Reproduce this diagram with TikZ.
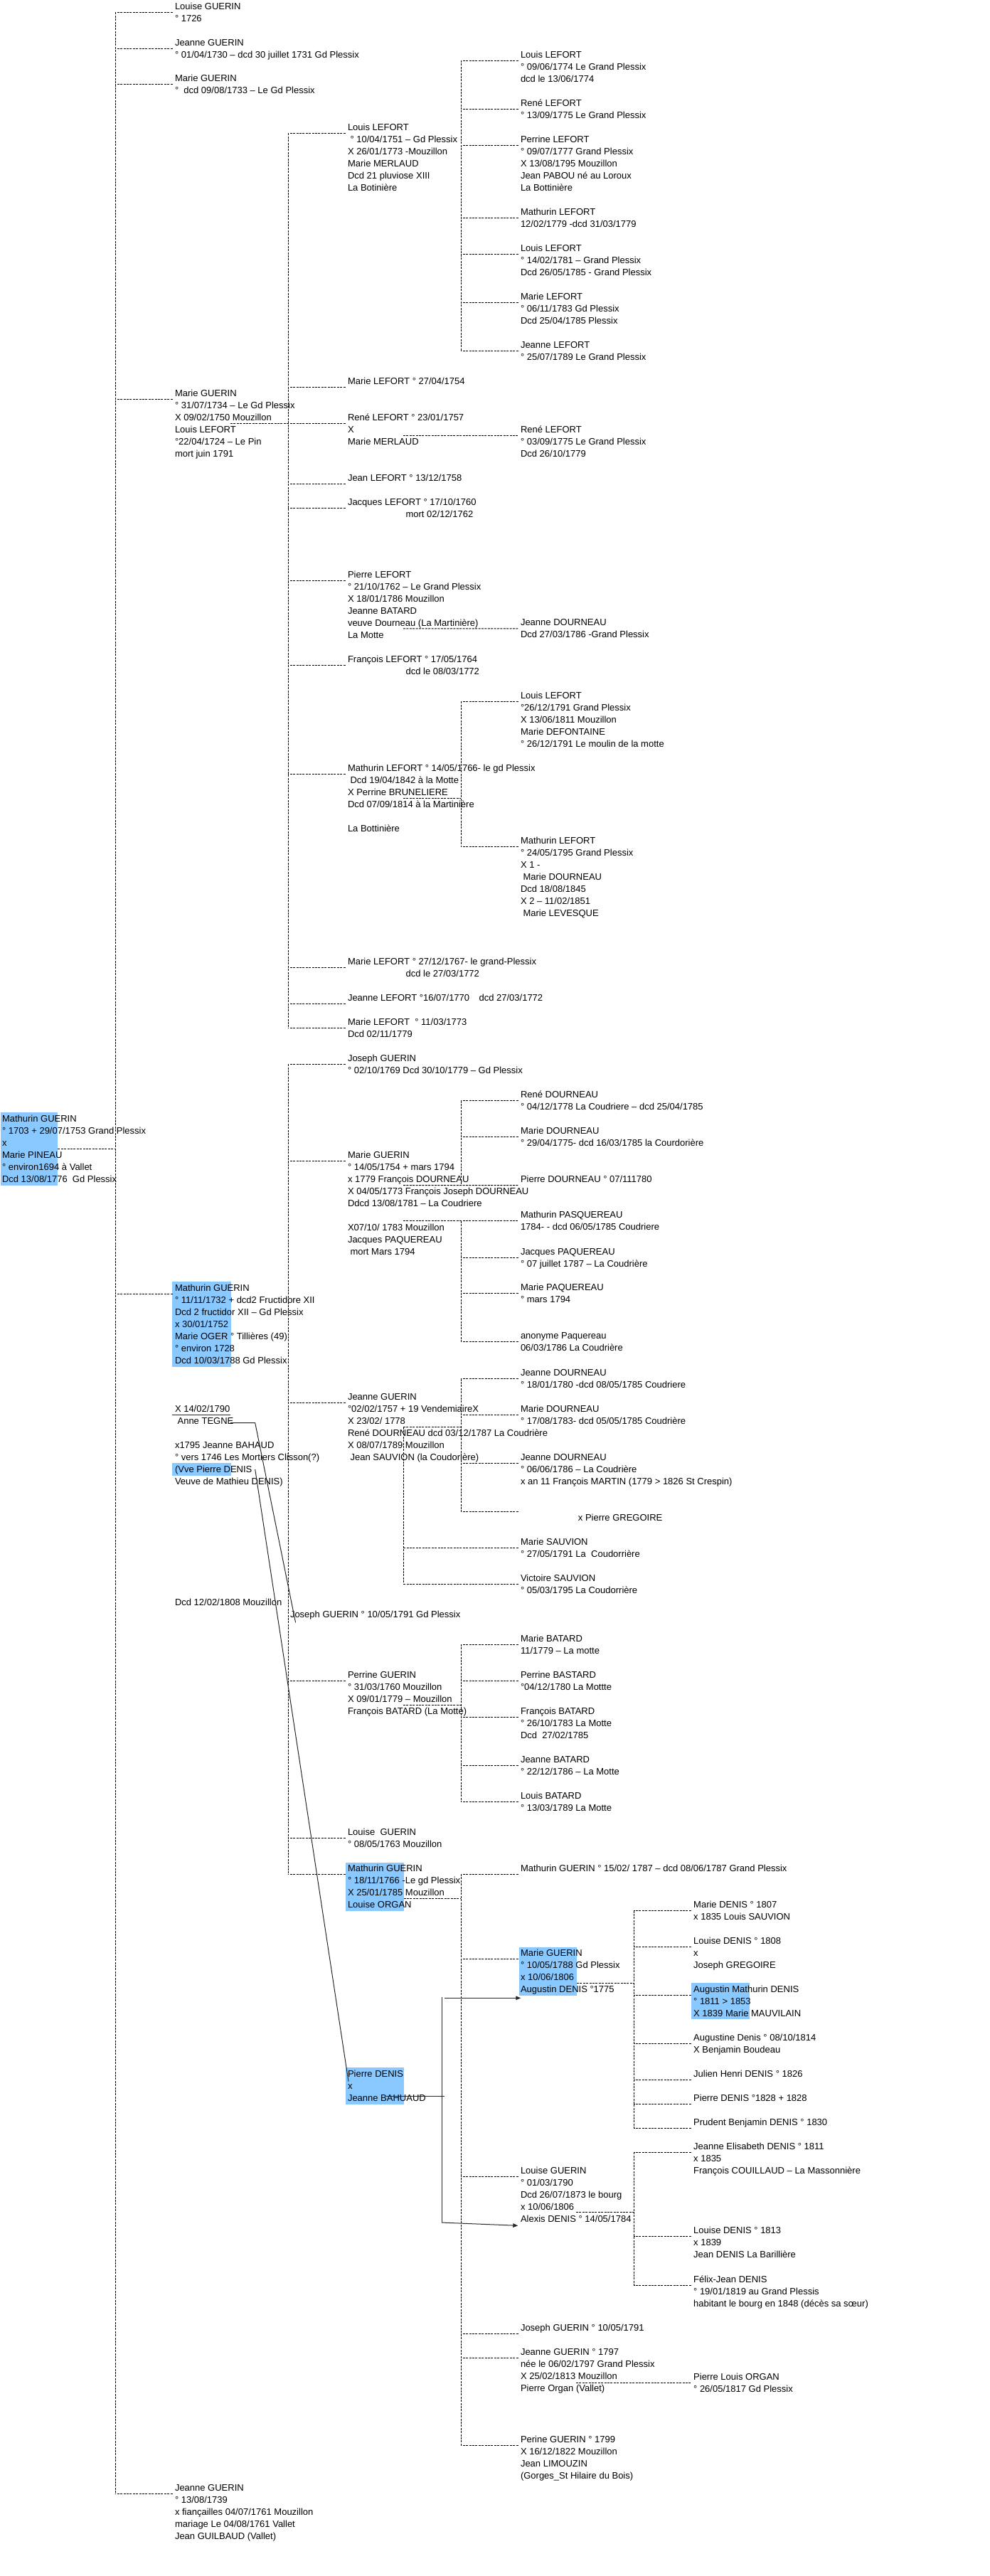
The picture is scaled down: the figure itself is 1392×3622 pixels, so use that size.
\documentclass[tikz,border=0pt]{standalone}
\usepackage{fontspec}
\setmainfont{Liberation Sans}
\usetikzlibrary{backgrounds,arrows.meta,calc}
\definecolor{hl}{RGB}{137,201,255}
\tikzset{
  txt/.style={anchor=north west, inner sep=0pt, outer sep=0pt, align=left, yshift=12pt,
              font=\fontsize{13}{17}\selectfont},
  dl/.style={draw=black, line width=0.9pt, dash pattern=on 3pt off 1.4pt},
  sl/.style={draw=black!85, line width=1pt},
  arr/.style={sl, -{Triangle[length=7pt,width=5.5pt]}},
}
% person node: name, x, first baseline, text
\newcommand\pp[4]{\node[txt] (#1) at (#2,#3) {\rule{0pt}{12pt}#4};
  \coordinate (#1-in) at ([shift={(-3.5,16)}]#1.north west);}
% child line from a vertical
\newcommand\cl[2]{\draw[dl] (#1-in) -- (#1-in -| #2);}
% vertical of a bracket
\newcommand\vb[3]{\draw[dl] (#2-in -| #1) -- (#3-in -| #1);}
% parent line: node, dx, dy, vertical
\newcommand\pl[4]{\draw[dl] ([shift={(#2,#3)}]#1.north west) coordinate (tmp) -- (tmp -| #4);}
\newcommand\lsp{\hspace*{3.6pt}}

\begin{document}
\begin{tikzpicture}[x=1pt,y=-1pt]
\useasboundingbox (0,0) rectangle (1392,3622);
\coordinate (v0) at (162.4,0);
\coordinate (vA) at (405.3,0);
\coordinate (v4) at (648.3,0);
\coordinate (vS) at (567.3,0);
\coordinate (v5) at (891.4,0);

% ---------------- root and generation 2
\pp{root}{3}{1577}{Mathurin GUERIN\\° 1703 + 29/07/1753 Grand Plessix\\x\\Marie PINEAU\\° environ1694 à Vallet\\Dcd 13/08/1776\ \ Gd Plessix}
\pp{louiseA}{246}{13.4}{Louise GUERIN\\° 1726}
\pp{jeanneA}{246}{64}{Jeanne GUERIN\\° 01/04/1730 – dcd 30 juillet 1731 Gd Plessix}
\pp{marieA}{246}{114.6}{Marie GUERIN\\°\ \ dcd 09/08/1733 – Le Gd Plessix}
\pp{marieB}{246}{557.5}{Marie GUERIN\\° 31/07/1734 – Le Gd Plessix\\X 09/02/1750 Mouzillon\\Louis LEFORT\\°22/04/1724 – Le Pin\\mort juin 1791}
\pp{mathurinA}{246}{1815.2}{Mathurin GUERIN\\° 11/11/1732 + dcd2 Fructidore XII\\Dcd 2 fructidor XII – Gd Plessix\\x 30/01/1752\\Marie OGER ° Tillières (49)\\° environ 1728\\Dcd 10/03/1788 Gd Plessix}
\pp{tegne}{246}{1985.2}{X 14/02/1790\\\lsp Anne TEGNE}
\pp{bahaud}{246}{2036.2}{x1795 Jeanne BAHAUD\\° vers 1746 Les Mortiers Clisson(?)\\(Vve Pierre DENIS\\Veuve de Mathieu DENIS)}
\pp{dcdM}{246}{2257}{Dcd 12/02/1808 Mouzillon}
\pp{jeanneC}{246}{3502}{Jeanne GUERIN\\° 13/08/1739\\x fiançailles 04/07/1761 Mouzillon\\mariage Le 04/08/1761 Vallet\\Jean GUILBAUD (Vallet)}

% ---------------- generation 3 (children of Marie GUERIN x Louis LEFORT)
\pp{louisL}{489}{183.4}{Louis LEFORT\\\lsp° 10/04/1751 – Gd Plessix\\X 26/01/1773 -Mouzillon\\Marie MERLAUD\\Dcd 21 pluviose XIII\\La Botinière}
\pp{marieL54}{489}{540}{Marie LEFORT ° 27/04/1754}
\pp{reneL57}{489}{591}{René LEFORT ° 23/01/1757\\X\\Marie MERLAUD}
\pp{jeanL58}{489}{676.3}{Jean LEFORT ° 13/12/1758}
\pp{jacquesL60}{489}{710.3}{Jacques LEFORT ° 17/10/1760\\\hspace*{81.6pt}mort 02/12/1762}
\pp{pierreL62}{489}{812.3}{Pierre LEFORT\\° 21/10/1762 – Le Grand Plessix\\X 18/01/1786 Mouzillon\\Jeanne BATARD\\veuve Dourneau (La Martinière)\\La Motte}
\pp{francoisL64}{489}{931.3}{François LEFORT ° 17/05/1764\\\hspace*{81.6pt}dcd le 08/03/1772}
\pp{mathurinL66}{489}{1084.3}{Mathurin LEFORT ° 14/05/1766- le gd Plessix\\\lsp Dcd 19/04/1842 à la Motte\\X Perrine BRUNELIERE\\Dcd 07/09/1814 à la Martinière}
\pp{bottiniere}{489}{1169.3}{La Bottinière}
\pp{marieL67}{489}{1356.5}{Marie LEFORT ° 27/12/1767- le grand-Plessix\\\hspace*{81.6pt}dcd le 27/03/1772}
\pp{jeanneL70}{489}{1407.5}{Jeanne LEFORT °16/07/1770\hspace{13.4pt}dcd 27/03/1772}
\pp{marieL73}{489}{1441.2}{Marie LEFORT\ \ ° 11/03/1773\\Dcd 02/11/1779}

% ---------------- generation 3 (children of Mathurin GUERIN x Marie OGER)
\pp{josephG69}{489}{1492.2}{Joseph GUERIN\\° 02/10/1769 Dcd 30/10/1779 – Gd Plessix}
\pp{marieG54}{489}{1628.2}{Marie GUERIN\\° 14/05/1754 + mars 1794\\x 1779 François DOURNEAU\\X 04/05/1773 François Joseph DOURNEAU\\Ddcd 13/08/1781 – La Coudriere}
\pp{marieG54b}{489}{1730.2}{X07/10/ 1783 Mouzillon\\Jacques PAQUEREAU\\\lsp mort Mars 1794}
\pp{jeanneG57}{489}{1968.2}{Jeanne GUERIN\\°02/02/1757 + 19 VendemiaireX\\X 23/02/ 1778\\René DOURNEAU dcd 03/12/1787 La Coudrière\\X 08/07/1789 Mouzillon\\\lsp Jean SAUVION (la Coudorière)}
\pp{josephG91}{408}{2274}{Joseph GUERIN ° 10/05/1791 Gd Plessix}
\pp{perrineG60}{489}{2359.5}{Perrine GUERIN\\° 31/03/1760 Mouzillon\\X 09/01/1779 – Mouzillon\\François BATARD (La Motte)}
\pp{louiseG63}{489}{2580.5}{Louise\ \ GUERIN\\° 08/05/1763 Mouzillon}
\pp{mathurinG66}{489}{2631}{Mathurin GUERIN\\° 18/11/1766 -Le gd Plessix\\X 25/01/1785 Mouzillon\\Louise ORGAN}
\pp{pdenis}{489}{2920}{Pierre DENIS\\x\\Jeanne BAHUAUD}

% ---------------- generation 4
\pp{louisL74}{732}{81}{Louis LEFORT\\° 09/06/1774 Le Grand Plessix\\dcd le 13/06/1774}
\pp{reneL75}{732}{149}{René LEFORT\\° 13/09/1775 Le Grand Plessix}
\pp{perrineL77}{732}{200.4}{Perrine LEFORT\\° 09/07/1777 Grand Plessix\\X 13/08/1795 Mouzillon\\Jean PABOU né au Loroux\\La Bottinière}
\pp{mathurinL79}{732}{302}{Mathurin LEFORT\\12/02/1779 -dcd 31/03/1779}
\pp{louisL81}{732}{353}{Louis LEFORT\\° 14/02/1781 – Grand Plessix\\Dcd 26/05/1785 - Grand Plessix}
\pp{marieL83}{732}{421}{Marie LEFORT\\° 06/11/1783 Gd Plessix\\Dcd 25/04/1785 Plessix}
\pp{jeanneL89}{732}{489}{Jeanne LEFORT\\° 25/07/1789 Le Grand Plessix}
\pp{reneL75b}{732}{608}{René LEFORT\\° 03/09/1775 Le Grand Plessix\\Dcd 26/10/1779}
\pp{jeanneD86}{732}{879.9}{Jeanne DOURNEAU\\Dcd 27/03/1786 -Grand Plessix}
\pp{louisL91}{732}{982.3}{Louis LEFORT\\°26/12/1791 Grand Plessix\\X 13/06/1811 Mouzillon\\Marie DEFONTAINE\\° 26/12/1791 Le moulin de la motte}
\pp{mathurinL95}{732}{1186.3}{Mathurin LEFORT\\° 24/05/1795 Grand Plessix\\X 1 -\\\lsp Marie DOURNEAU\\Dcd 18/08/1845\\X 2 – 11/02/1851\\\lsp Marie LEVESQUE}
\pp{reneD78}{732}{1543.6}{René DOURNEAU\\° 04/12/1778 La Coudriere – dcd 25/04/1785}
\pp{marieD75}{732}{1594.2}{Marie DOURNEAU\\° 29/04/1775- dcd 16/03/1785 la Courdorière}
\pp{pierreD80}{732}{1662.6}{Pierre DOURNEAU ° 07/111780}
\pp{mathurinP84}{732}{1712.8}{Mathurin PASQUEREAU\\1784- - dcd 06/05/1785 Coudriere}
\pp{jacquesP87}{732}{1764.2}{Jacques PAQUEREAU\\° 07 juillet 1787 – La Coudrière}
\pp{marieP94}{732}{1814.7}{Marie PAQUEREAU\\° mars 1794}
\pp{anonP86}{732}{1882.6}{anonyme Paquereau\\06/03/1786 La Coudrière}
\pp{jeanneD80}{732}{1934.5}{Jeanne DOURNEAU\\° 18/01/1780 -dcd 08/05/1785 Coudriere}
\pp{marieD83}{732}{1985.5}{Marie DOURNEAU\\° 17/08/1783- dcd 05/05/1785 Coudrière}
\pp{jeanneD86b}{732}{2053}{Jeanne DOURNEAU\\° 06/06/1786 – La Coudrière\\x an 11 François MARTIN (1779 > 1826 St Crespin)}
\node[txt] (greg) at (812.9,2138) {\rule{0pt}{12pt}x Pierre GREGOIRE};
\coordinate (greg-in) at (728.5,2125);
\pp{marieS91}{732}{2172}{Marie SAUVION\\° 27/05/1791 La\ \ Coudorrière}
\pp{victoireS95}{732}{2223}{Victoire SAUVION\\° 05/03/1795 La Coudorrière}
\pp{marieB79}{732}{2308}{Marie BATARD\\11/1779 – La motte}
\pp{perrineB80}{732}{2359}{Perrine BASTARD\\°04/12/1780 La Mottte}
\pp{francoisB83}{732}{2410}{François BATARD\\° 26/10/1783 La Motte\\Dcd\ \ 27/02/1785}
\pp{jeanneB86}{732}{2478}{Jeanne BATARD\\° 22/12/1786 – La Motte}
\pp{louisB89}{732}{2529}{Louis BATARD\\° 13/03/1789 La Motte}
\pp{mathurinG87}{732}{2631}{Mathurin GUERIN ° 15/02/ 1787 – dcd 08/06/1787 Grand Plessix}
\pp{marieG88}{732}{2750}{Marie GUERIN\\° 10/05/1788 Gd Plessix\\x 10/06/1806\\Augustin DENIS °1775}
\pp{louiseG90}{732}{3056.3}{Louise GUERIN\\° 01/03/1790\\Dcd 26/07/1873 le bourg\\x 10/06/1806\\Alexis DENIS ° 14/05/1784}
\pp{josephG91b}{732}{3277.3}{Joseph GUERIN ° 10/05/1791}
\pp{jeanneG97}{732}{3311.3}{Jeanne GUERIN ° 1797\\née le 06/02/1797 Grand Plessix\\X 25/02/1813 Mouzillon\\Pierre Organ (Vallet)}
\pp{perineG99}{732}{3434}{Perine GUERIN ° 1799\\X 16/12/1822 Mouzillon\\Jean LIMOUZIN\\(Gorges\_St Hilaire du Bois)}

% ---------------- generation 5
\pp{marieDe07}{975.2}{2682.5}{Marie DENIS ° 1807\\x 1835 Louis SAUVION}
\pp{louiseDe08}{975.2}{2733.1}{Louise DENIS ° 1808\\x\\Joseph GREGOIRE}
\pp{augustinDe11}{975.2}{2801.2}{Augustin Mathurin DENIS\\° 1811 > 1853\\X 1839 Marie MAUVILAIN}
\pp{augustineDe14}{975.2}{2869.3}{Augustine Denis ° 08/10/1814\\X Benjamin Boudeau}
\pp{julienDe26}{975.2}{2920.3}{Julien Henri DENIS ° 1826}
\pp{pierreDe28}{975.2}{2954.3}{Pierre DENIS °1828 + 1828}
\pp{prudentDe30}{975.2}{2988.3}{Prudent Benjamin DENIS ° 1830}
\pp{jeanneDe11}{975.2}{3022.3}{Jeanne Elisabeth DENIS ° 1811\\x 1835\\François COUILLAUD – La Massonnière}
\pp{louiseDe13}{975.2}{3140.9}{Louise DENIS ° 1813\\x 1839\\Jean DENIS La Barillière}
\pp{felixDe19}{975.2}{3209.3}{Félix-Jean DENIS\\° 19/01/1819 au Grand Plessis\\habitant le bourg en 1848 (décès sa sœur)}
\pp{pierreLO17}{975.2}{3346.1}{Pierre Louis ORGAN\\° 26/05/1817 Gd Plessix}

% ---------------- highlights
\begin{scope}[on background layer]
\fill[hl] (1,1563.7) rectangle (81.4,1666.5);
\fill[hl] (242.4,1802) rectangle (324.8,1921.6);
\fill[hl] (242.4,2057) rectangle (324.8,2074.6);
\fill[hl] (486,2618.5) rectangle (568,2686.5);
\fill[hl] (486,2906.7) rectangle (567.7,2959);
\fill[hl] (729.5,2737.5) rectangle (811,2805.5);
\fill[hl] (972,2788) rectangle (1054,2839.2);
\end{scope}

% ---------------- dashed connectors
% root -> generation 2
\pl{root}{78.4}{50.1}{v0}
\vb{v0}{louiseA}{jeanneC}
\foreach \c in {louiseA,jeanneA,marieA,marieB,mathurinA,jeanneC} {\cl{\c}{v0}}
% Marie GUERIN x Louis LEFORT
\pl{marieB}{78}{49.5}{vA}
\vb{vA}{louisL}{marieL73}
\foreach \c in {louisL,marieL54,reneL57,jeanL58,jacquesL60,pierreL62,francoisL64,mathurinL66,marieL67,jeanneL70,marieL73} {\cl{\c}{vA}}
% Louis LEFORT x Marie MERLAUD
\vb{v4}{louisL74}{jeanneL89}
\foreach \c in {louisL74,reneL75,perrineL77,mathurinL79,louisL81,marieL83,jeanneL89} {\cl{\c}{v4}}
\draw[dl] ([shift={(78,33)}]reneL57.north west) -- (reneL75b-in);
\draw[dl] ([shift={(78,83.6)}]pierreL62.north west) -- (jeanneD86-in);
\pl{mathurinL66}{78}{49.7}{v4}
\vb{v4}{louisL91}{mathurinL95}
\foreach \c in {louisL91,mathurinL95} {\cl{\c}{v4}}
% Mathurin GUERIN x Marie OGER
\vb{vA}{josephG69}{mathurinG66}
\foreach \c in {josephG69,marieG54,jeanneG57,perrineG60,louiseG63,mathurinG66} {\cl{\c}{vA}}
% Marie GUERIN x DOURNEAU / PAQUEREAU
\draw[dl] ([shift={(78,50.4)}]marieG54.north west) -- (pierreD80-in);
\vb{v4}{reneD78}{pierreD80}
\foreach \c in {reneD78,marieD75} {\cl{\c}{v4}}
\draw[dl] ([shift={(78,100.6)}]marieG54.north west) -- (mathurinP84-in);
\vb{v4}{mathurinP84}{anonP86}
\foreach \c in {jacquesP87,marieP94,anonP86} {\cl{\c}{v4}}
% Jeanne GUERIN x DOURNEAU / SAUVION
\pl{jeanneG57}{78}{50.4}{v4}
\coordinate (jg) at ([shift={(78,50.4)}]jeanneG57.north west);
\vb{v4}{jeanneD80}{greg}
\foreach \c in {jeanneD80,marieD83,jeanneD86b,greg} {\cl{\c}{v4}}
\draw[dl] (jg -| vS) -- (victoireS95-in -| vS);
\foreach \c in {marieS91,victoireS95} {\cl{\c}{vS}}
% Perrine GUERIN x BATARD
\pl{perrineG60}{78}{49.5}{v4}
\vb{v4}{marieB79}{louisB89}
\foreach \c in {marieB79,perrineB80,francoisB83,jeanneB86,louisB89} {\cl{\c}{v4}}
% Mathurin GUERIN x Louise ORGAN
\pl{mathurinG66}{78.5}{50}{v4}
\vb{v4}{mathurinG87}{perineG99}
\foreach \c in {mathurinG87,marieG88,louiseG90,josephG91b,jeanneG97,perineG99} {\cl{\c}{v4}}
% Marie GUERIN x Augustin DENIS
\pl{marieG88}{79}{50.2}{v5}
\vb{v5}{marieDe07}{prudentDe30}
\foreach \c in {marieDe07,louiseDe08,augustinDe11,augustineDe14,julienDe26,pierreDe28,prudentDe30} {\cl{\c}{v5}}
% Louise GUERIN x Alexis DENIS
\pl{louiseG90}{78}{66.2}{v5}
\vb{v5}{jeanneDe11}{felixDe19}
\foreach \c in {jeanneDe11,louiseDe13,felixDe19} {\cl{\c}{v5}}
% Jeanne GUERIN x Pierre ORGAN
\draw[dl] ([shift={(78,50.8)}]jeanneG97.north west) -- (pierreLO17-in);

% ---------------- solid connectors
\draw[sl] ([shift={(-4,16.4)}]tegne.north west) -- ++(82,0);
\draw[sl] ([shift={(78,27.4)}]tegne.north west) -- ++(34.7,0) -- ([shift={(7.6,19.4)}]josephG91.north west);
\draw[sl] ([shift={(112.7,41.8)}]bahaud.north west) -- ([shift={(1,18.7)}]pdenis.north west);
\coordinate (pdtop) at (621,2808.3);
\coordinate (pdbot) at (621,3125);
\draw[sl] ([shift={(54.3,39)}]pdenis.north west) -- ++(81.7,0);
\draw[sl] (pdtop) -- (pdbot);
\draw[arr] (pdtop) ++(4,1) -- ([shift={(0.3,71.3)}]marieG88.north west);
\draw[arr] (pdbot) -- ([shift={(-3.7,85)}]louiseG90.north west);
\end{tikzpicture}
\end{document}
